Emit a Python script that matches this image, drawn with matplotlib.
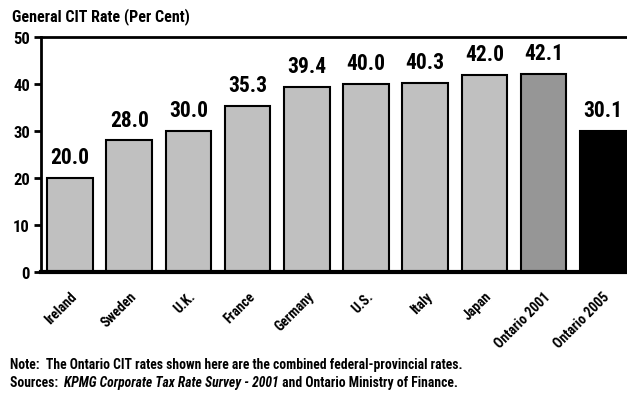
import matplotlib
matplotlib.use("Agg")
import matplotlib.pyplot as plt

countries = ["Ireland", "Sweden", "U.K.", "France", "Germany", "U.S.",
             "Italy", "Japan", "Ontario 2001", "Ontario 2005"]
rates = [20.0, 28.0, 30.0, 35.3, 39.4, 40.0, 40.3, 42.0, 42.1, 30.1]
bar_colors = ["#c0c0c0"] * 8 + ["#969696", "#000000"]
yticks = [0, 10, 20, 30, 40, 50]

plt.rcParams['font.family'] = ['Roboto Condensed', 'Liberation Sans', 'DejaVu Sans']
plt.rcParams['font.weight'] = 'bold'

fig = plt.figure(figsize=(6.27, 4.06), dpi=100)
ax = fig.add_axes([41 / 627, 133 / 406, 586 / 627, 235 / 406])

x = list(range(len(countries)))
bars = ax.bar(x, rates, width=0.77, color=bar_colors, edgecolor="black", linewidth=1.5, zorder=2)

for xi, v in zip(x, rates):
    ax.annotate(f"{v:.1f}", (xi, v), xytext=(0, 7), textcoords="offset points",
                ha="center", va="bottom", fontsize=15.5, fontweight="bold")

ax.set_xlim(-0.49, 9.41)
ax.set_ylim(0, 50)
ax.set_yticks(yticks)
ax.set_yticklabels([str(t) for t in yticks], fontsize=12, fontweight="bold")
ax.set_xticks(x)
ax.set_xticklabels(countries, rotation=45, ha="right", rotation_mode="anchor",
                   fontsize=10, fontweight="bold")
ax.tick_params(axis="x", length=0, pad=12)
ax.tick_params(axis="y", length=5, width=2, direction="out", pad=3)

ax.spines["right"].set_visible(False)
ax.spines["left"].set_linewidth(2)
ax.spines["top"].set_linewidth(2)
ax.spines["bottom"].set_linewidth(3)

fig.text(12 / 627, 1 - 17 / 406, "General CIT Rate (Per Cent)", fontsize=11.5,
         fontweight="bold", va="center", ha="left")

fig.text(10 / 627, 1 - 365 / 406,
         "Note:  The Ontario CIT rates shown here are the combined federal-provincial rates.",
         fontsize=9.8, fontweight="bold", va="center", ha="left")

t1 = fig.text(10 / 627, 1 - 383 / 406, "Sources:  ", fontsize=9.8,
              fontweight="bold", va="center", ha="left")
t2 = ax.annotate("KPMG Corporate Tax Rate Survey - 2001", xy=(1, 0.5), xycoords=t1,
                 va="center", ha="left", fontsize=9.8, fontweight="bold", fontstyle="italic")
ax.annotate(" and Ontario Ministry of Finance.", xy=(1, 0.5), xycoords=t2,
            va="center", ha="left", fontsize=9.8, fontweight="bold")

fig.savefig("out.png", dpi=100)
